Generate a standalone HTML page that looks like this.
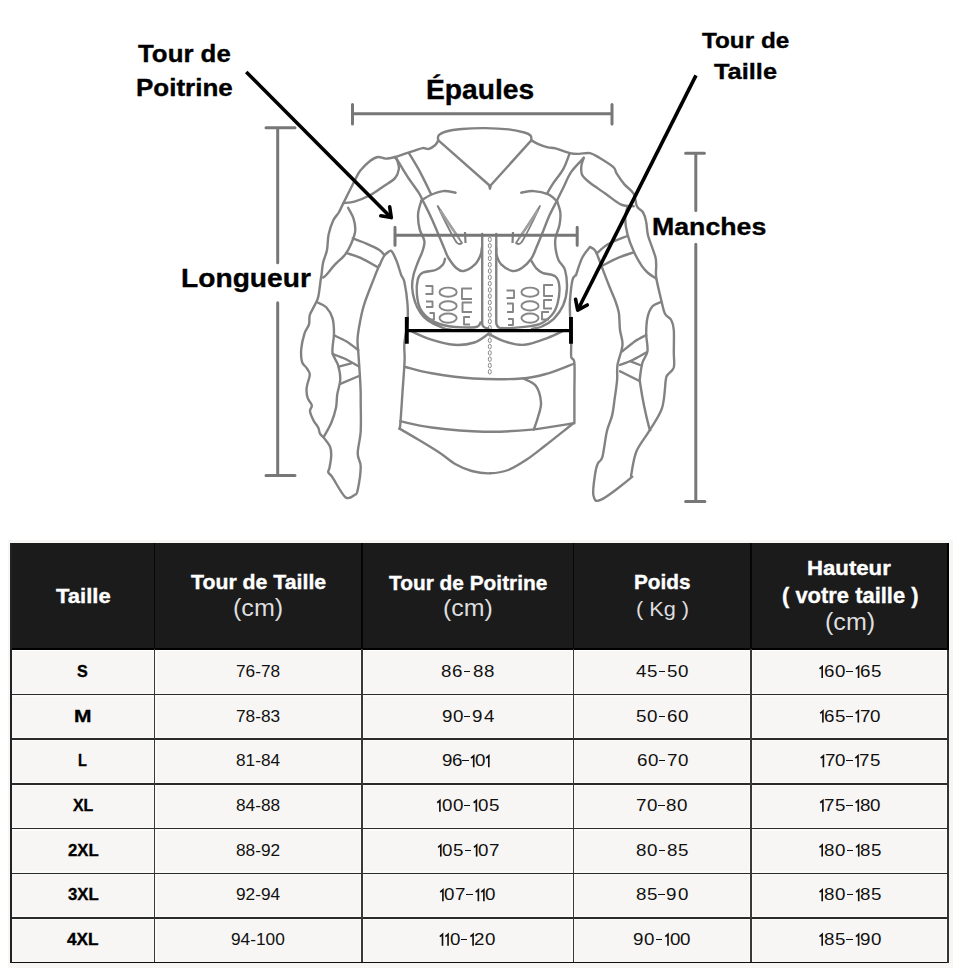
<!DOCTYPE html>
<html><head><meta charset="utf-8"><style>
html,body{margin:0;padding:0;background:#fff;}
body{width:960px;height:976px;position:relative;overflow:hidden;font-family:"Liberation Sans",sans-serif;}
div,span,svg{position:absolute;}
span{white-space:pre;transform-origin:0 0;}
</style></head><body>
<svg width="960" height="976" viewBox="0 0 960 976" style="left:0;top:0">
<g fill="none" stroke="#828282" stroke-width="2.4" stroke-linecap="round" stroke-linejoin="round">
<path d="M437.9,141.0 C437.5,141.7 436.8,143.7 435.3,145.0 C433.8,146.3 431.1,148.4 429.0,148.9 C426.9,149.4 425.3,147.8 422.8,148.1 C420.3,148.4 416.8,149.8 413.8,150.8 C410.7,151.8 407.5,152.9 404.4,153.9 C401.3,154.9 398.1,156.2 395.0,157.0 C391.9,157.8 388.5,158.6 385.6,158.6 C382.7,158.6 380.4,156.6 377.8,157.0 C375.2,157.4 372.9,158.8 370.0,161.0 C367.1,163.2 362.8,167.7 360.6,170.3 C358.4,172.9 358.3,173.7 356.7,176.6 C355.1,179.5 353.5,183.1 351.2,187.5 C349.0,191.9 345.5,198.9 343.4,203.1 C341.3,207.3 340.4,209.6 338.8,212.5 C337.1,215.4 335.0,216.7 333.3,220.3 C331.6,224.0 329.7,229.5 328.6,234.4 C327.6,239.3 327.9,245.3 327.0,250.0 C326.1,254.7 324.0,258.3 323.1,262.5 C322.2,266.7 321.9,272.2 321.5,275.0 C321.1,277.8 321.3,275.5 320.8,279.0 C320.3,282.5 319.3,292.1 318.4,296.2 C317.5,300.4 316.7,300.9 315.3,304.0 C313.9,307.1 310.9,311.6 309.8,315.0 C308.8,318.4 309.9,321.3 309.0,324.4 C308.1,327.5 305.7,329.6 304.4,333.8 C303.1,337.9 301.6,344.7 301.2,349.4 C300.9,354.1 301.1,358.8 302.0,361.9 C302.9,365.0 305.4,366.0 306.7,368.1 C308.0,370.2 309.7,371.8 309.8,374.4 C309.9,377.0 308.1,381.1 307.5,383.8 C306.9,386.4 306.5,387.6 306.5,390.0 C306.5,392.4 306.8,395.6 307.7,398.2 C308.6,400.8 311.4,403.1 311.8,405.3 C312.2,407.5 309.7,408.6 310.0,411.2 C310.3,413.8 312.2,417.9 313.6,420.6 C315.0,423.4 317.2,425.5 318.3,427.7 C319.4,429.9 319.0,431.8 320.0,433.6 C321.0,435.4 322.5,436.2 324.2,438.3 C325.9,440.4 328.8,443.6 330.0,446.5 C331.2,449.4 331.3,452.5 331.2,456.0 C331.1,459.5 330.0,465.0 329.5,467.7 C329.0,470.4 327.8,470.8 328.3,472.4 C328.8,474.0 329.5,473.1 332.4,477.2 C335.2,481.3 341.7,494.3 345.4,497.2 C349.1,500.1 352.8,496.0 354.8,494.8 C356.9,493.6 356.7,494.8 357.7,490.1 C358.7,485.4 360.7,472.7 360.7,466.6 C360.7,460.5 357.7,459.5 357.7,453.6 C357.7,447.7 360.2,439.8 360.7,431.2 C361.2,422.6 360.7,408.7 360.7,401.8 C360.7,394.9 360.8,394.6 360.6,390.0 C360.5,385.4 360.2,380.6 359.8,374.4 C359.4,368.1 358.7,358.2 358.3,352.5 C357.9,346.8 357.4,344.2 357.5,340.0 C357.6,335.8 358.0,333.2 359.0,327.5 C360.0,321.8 361.4,313.4 363.8,305.6 C366.1,297.8 370.5,287.4 373.1,280.6 C375.7,273.8 378.3,267.6 379.4,265.0"/>
<path d="M343.4,203.1 C345.2,202.8 350.0,202.9 354.4,201.6 C358.8,200.3 365.1,197.9 370.0,195.3 C374.9,192.7 379.8,188.9 384.0,186.0 C388.2,183.1 392.5,181.0 395.0,178.1 C397.5,175.2 398.5,171.6 398.9,168.8 C399.3,165.9 397.9,162.7 397.3,160.9 C396.7,159.1 395.4,158.3 395.0,157.8"/>
<path d="M396.6,158.6 C398.4,161.6 403.9,171.0 407.5,176.6 C411.1,182.2 415.6,187.8 418.4,192.2 C421.1,196.6 421.8,198.6 424.0,203.0 C426.2,207.4 429.1,213.0 431.7,218.8 C434.3,224.5 437.6,232.5 439.7,237.5 C441.8,242.5 443.0,245.6 444.5,249.0 C446.0,252.4 446.5,254.8 448.5,258.0 C450.5,261.2 453.7,265.8 456.2,268.0 C458.8,270.2 460.6,271.6 463.8,271.0 C466.9,270.4 472.2,267.1 475.0,264.4 C477.8,261.7 479.5,257.7 480.6,255.0 C481.7,252.3 481.6,249.2 481.8,248.0"/>
<path d="M409.0,153.1 C410.8,156.2 416.4,165.1 420.0,171.9 C423.6,178.7 429.1,190.1 430.9,193.8"/>
<path d="M421.2,200.5 C422.8,199.6 427.0,196.6 430.6,195.0 C434.2,193.4 438.9,191.5 443.1,191.1 C447.3,190.7 453.5,192.4 455.6,192.7"/>
<path d="M421.2,201.2 C420.7,203.3 418.4,209.1 418.1,213.8 C417.8,218.4 418.6,224.9 419.7,229.4 C420.8,233.9 423.9,237.4 424.4,241.0 C424.9,244.6 423.6,247.8 422.5,251.2 C421.4,254.8 419.5,258.0 418.0,262.0 C416.5,266.0 414.5,270.7 413.5,275.0 C412.5,279.3 411.9,283.5 412.2,288.0 C412.4,292.5 413.6,297.7 415.0,301.9 C416.4,306.1 418.4,309.9 420.6,313.0 C422.8,316.1 424.3,318.1 428.0,320.6 C431.7,323.1 439.0,326.4 443.0,328.0 C447.0,329.6 450.5,329.7 452.0,330.0"/>
<path d="M348.1,207.8 C349.0,209.6 352.4,214.8 353.6,218.8 C354.8,222.7 355.6,227.1 355.2,231.2 C354.8,235.4 352.9,239.8 351.2,243.8 C349.6,247.7 347.9,251.1 345.0,254.7 C342.1,258.3 337.1,262.2 334.0,265.6 C330.9,269.0 328.1,273.0 326.2,275.0 C324.4,277.0 323.6,277.1 323.1,277.5"/>
<path d="M352.8,238.3 C355.1,239.2 362.5,241.8 366.9,243.8 C371.3,245.7 376.5,248.2 379.4,250.0 C382.2,251.8 383.2,253.9 384.0,254.7"/>
<path d="M346.6,253.1 C348.9,253.9 355.4,255.5 360.6,257.8 C365.8,260.2 374.9,265.6 377.8,267.2"/>
<path d="M379.4,265.6 C380.2,264.0 382.4,258.6 384.0,256.2 C385.6,253.9 387.4,252.4 388.8,251.6 C390.1,250.8 390.6,250.0 391.9,251.6 C393.2,253.2 395.0,257.1 396.6,261.0 C398.2,264.9 399.9,271.5 401.2,275.0 C402.6,278.5 403.4,277.2 404.4,282.0 C405.4,286.8 407.0,297.2 407.5,304.0 C408.0,310.8 408.0,316.3 407.5,322.8 C407.0,329.3 404.9,336.8 404.4,343.1 C403.9,349.4 404.9,352.7 404.6,360.8 C404.3,368.9 403.2,381.6 402.5,392.0 C401.8,402.4 400.9,417.2 400.4,423.3 C399.9,429.4 399.6,427.6 399.4,428.5"/>
<path d="M317.7,302.5 C319.1,303.3 323.8,304.6 326.2,307.2 C328.7,309.8 331.2,313.7 332.5,318.1 C333.8,322.5 334.0,328.0 334.0,333.8 C334.0,339.5 331.8,347.3 332.5,352.5 C333.2,357.7 336.7,360.6 338.0,365.0 C339.3,369.4 340.4,374.1 340.3,379.0 C340.2,383.9 337.9,389.9 337.2,394.7 C336.5,399.5 337.0,403.0 336.0,407.7 C335.0,412.4 333.3,418.1 331.2,423.0 C329.1,427.9 324.9,434.8 323.6,437.1"/>
<path d="M334.0,335.3 C336.1,336.4 342.6,339.1 346.6,341.6 C350.7,344.1 356.4,348.8 358.3,350.2"/>
<path d="M332.5,354.0 C334.6,354.8 340.6,356.6 345.0,358.8 C349.4,360.9 356.7,365.3 359.0,366.6"/>
<path d="M338.8,366.6 L351.2,363.4"/>
<path d="M340.3,383.8 L359.0,376.0"/>
<path d="M438.2,141.0 C438.3,140.1 437.3,137.1 438.6,135.5 C439.9,133.9 442.4,132.6 446.2,131.5 C450.1,130.4 455.4,129.6 461.9,129.0 C468.4,128.4 477.5,128.0 485.3,128.1 C493.1,128.2 502.2,128.7 508.8,129.4 C515.3,130.1 520.8,131.5 524.4,132.5 C528.0,133.5 529.4,134.2 530.6,135.6 C531.8,137.0 531.3,140.1 531.4,141.0"/>
<path d="M438.4,140.3 L489,185 L490,188.75 L491,185 L530.6,141.1"/>
<path d="M531.4,140.3 C532.6,141.0 535.7,143.0 538.4,144.2 C541.1,145.4 544.9,146.6 547.8,147.3 C550.7,148.0 552.0,147.4 555.6,148.4 C559.2,149.4 565.8,152.2 569.7,153.1 C573.6,154.0 575.6,153.9 579.0,153.9 C582.4,153.9 586.6,152.4 590.0,153.1 C593.4,153.8 595.5,155.5 599.4,157.8 C603.3,160.2 610.5,164.6 613.4,167.2 C616.3,169.8 614.8,170.5 616.6,173.4 C618.4,176.3 621.5,181.0 624.4,184.4 C627.3,187.8 631.7,190.1 633.8,193.8 C635.8,197.4 635.3,203.1 636.9,206.2 C638.5,209.4 641.5,209.9 643.1,212.5 C644.7,215.1 645.5,218.2 646.2,221.9 C647.0,225.6 646.8,230.0 647.8,234.4 C648.8,238.8 651.2,244.5 652.5,248.4 C653.8,252.3 655.0,255.0 655.6,257.8 C656.2,260.6 656.1,261.7 656.2,265.0 C656.4,268.3 655.4,271.7 656.2,277.5 C657.1,283.3 659.8,294.0 661.2,300.0 C662.7,306.0 663.3,310.4 665.0,313.8 C666.7,317.1 669.8,317.3 671.2,320.0 C672.7,322.7 673.3,324.6 673.8,330.0 C674.2,335.4 673.8,346.2 673.8,352.5 C673.8,358.8 674.8,363.8 673.8,367.5 C672.7,371.2 668.8,372.9 667.5,375.0 C666.2,377.1 666.7,374.5 665.8,380.0 C664.9,385.5 664.8,399.7 662.0,408.2 C659.2,416.7 653.4,423.9 649.1,431.2 C644.8,438.4 639.3,444.4 636.3,451.7 C633.3,459.0 632.2,470.3 631.2,474.8 C630.2,479.2 635.0,474.4 630.0,478.6 C625.0,482.8 607.2,496.9 601.1,499.7 C595.0,502.5 594.4,499.8 593.4,495.2 C592.4,490.6 594.6,477.5 595.4,472.2 C596.2,466.9 596.8,465.8 598.0,463.2 C599.2,460.6 600.9,462.1 602.4,456.8 C603.9,451.5 605.3,438.0 606.9,431.2 C608.5,424.4 610.7,421.2 612.0,415.9 C613.3,410.6 613.8,405.2 614.6,399.2 C615.5,393.2 616.6,385.7 617.1,380.0 C617.6,374.3 616.6,370.8 617.5,365.0 C618.4,359.2 622.1,350.8 622.5,345.0 C622.9,339.2 620.6,335.4 620.0,330.0 C619.4,324.6 619.6,317.5 618.8,312.5 C617.9,307.5 616.7,304.6 615.0,300.0 C613.3,295.4 610.8,290.2 608.8,285.0 C606.7,279.8 604.3,273.5 602.5,268.8 C600.7,264.0 599.1,259.4 597.8,256.2 C596.5,253.1 596.0,251.6 594.7,250.0 C593.4,248.4 590.8,247.4 590.0,246.9"/>
<path d="M583.8,157.8 C583.4,159.1 581.7,162.7 581.4,165.6 C581.1,168.5 580.8,172.1 582.2,175.0 C583.6,177.9 586.1,179.7 590.0,182.8 C593.9,185.9 600.4,190.1 605.6,193.8 C610.8,197.4 616.6,202.6 621.2,204.7 C625.9,206.8 631.7,206.0 633.8,206.2"/>
<path d="M569.7,153.1 C568.7,155.7 566.3,163.5 563.4,168.8 C560.5,174.0 555.2,180.2 552.5,184.4 C549.8,188.6 547.9,192.2 547.0,193.8"/>
<path d="M583.8,157.8 C581.7,160.2 574.6,167.0 571.2,171.9 C567.9,176.8 565.7,182.8 563.4,187.5 C561.1,192.2 559.5,195.3 557.2,200.0 C554.9,204.7 551.8,210.4 549.4,215.6 C547.0,220.8 545.2,226.2 543.1,231.2 C541.0,236.3 539.0,241.4 537.0,246.0 C535.0,250.6 533.8,255.1 531.2,258.8 C528.7,262.4 525.0,266.0 521.9,268.0 C518.8,270.0 515.9,271.6 512.5,271.0 C509.1,270.4 503.9,267.1 501.2,264.4 C498.6,261.7 497.4,257.7 496.6,255.0 C495.8,252.3 496.4,249.2 496.3,248.0"/>
<path d="M521.2,192.7 C523.3,192.4 529.3,190.8 533.8,191.1 C538.2,191.3 543.9,192.5 547.8,194.2 C551.7,195.9 555.6,200.1 557.2,201.2"/>
<path d="M557.2,201.6 C557.7,203.4 559.9,208.6 560.3,212.5 C560.7,216.4 560.3,220.8 559.5,225.0 C558.7,229.2 556.3,233.7 555.6,237.5 C554.9,241.3 555.0,244.2 555.5,248.0 C556.0,251.8 556.9,256.3 558.5,260.0 C560.1,263.7 563.6,265.2 565.0,270.0 C566.4,274.8 567.2,282.8 566.9,288.8 C566.6,294.7 565.3,300.6 563.1,305.6 C560.9,310.6 557.2,315.3 553.8,318.8 C550.3,322.2 546.1,324.5 542.5,326.2 C538.9,328.0 533.8,328.5 532.0,329.0"/>
<path d="M627.5,206.2 C627.1,208.3 625.2,214.1 625.2,218.8 C625.2,223.4 626.1,228.9 627.5,234.4 C628.9,239.9 631.4,246.4 633.8,251.6 C636.1,256.8 639.3,262.1 641.6,265.6 C643.9,269.1 645.1,270.3 647.5,272.5 C649.9,274.7 654.8,277.7 656.2,278.8"/>
<path d="M597.0,253.1 C599.0,251.5 603.7,246.6 608.8,243.8 C613.8,240.9 624.4,237.3 627.5,236.0"/>
<path d="M602.5,265.6 C605.1,264.3 612.8,260.0 618.0,257.8 C623.2,255.6 631.1,253.2 633.8,252.3"/>
<path d="M576.0,275.0 C577.0,272.1 579.9,262.5 582.2,257.8 C584.5,253.1 588.7,248.7 590.0,246.9"/>
<path d="M576.0,275.0 C575.4,275.8 573.5,275.8 572.5,280.0 C571.5,284.2 570.4,294.6 570.0,300.0 C569.6,305.4 569.8,305.8 570.0,312.5 C570.2,319.2 571.0,332.6 571.2,340.0 C571.5,347.4 570.7,352.9 571.2,356.7 C571.8,360.5 573.9,357.0 574.4,362.9 C574.9,368.8 574.4,381.9 574.4,392.0 C574.4,402.1 574.4,418.1 574.4,423.3"/>
<path d="M661.2,301.9 C659.8,302.6 654.8,303.6 652.5,306.2 C650.2,308.9 648.5,312.9 647.5,317.5 C646.5,322.1 646.2,328.1 646.2,333.8 C646.2,339.4 648.1,346.5 647.5,351.2 C646.9,356.0 643.8,358.1 642.5,362.5 C641.2,366.9 640.4,373.9 640.0,377.5 C639.6,381.1 639.5,379.1 640.2,383.8 C640.9,388.5 642.5,398.3 644.0,405.6 C645.5,412.9 648.0,423.3 649.1,427.4 C650.2,431.5 650.2,429.6 650.4,430.0"/>
<path d="M622.5,351.2 C624.6,349.6 631.0,344.0 635.0,341.2 C639.0,338.5 644.4,336.0 646.2,335.0"/>
<path d="M620.0,365.0 C622.1,364.2 628.1,362.1 632.5,360.0 C636.9,357.9 644.0,353.8 646.2,352.5"/>
<path d="M630.0,361.2 L640.0,365.0"/>
<path d="M620.0,371.2 L640.0,381.2"/>
<path d="M482.2,234 L482.2,323.75 Q482.5,328 488.4,328.4"/>
<path d="M496.25,234 L496.25,323 Q497,327.5 501,328.5"/>
<path d="M445.0,258.8 C444.7,259.7 444.6,262.5 443.0,264.4 C441.4,266.3 439.0,268.6 435.6,270.0 C432.2,271.4 425.5,271.2 422.5,272.8 C419.5,274.4 418.7,275.8 417.8,279.4 C416.9,283.0 416.4,289.4 416.9,294.4 C417.4,299.4 418.1,305.0 420.6,309.4 C423.1,313.8 427.2,317.8 431.9,320.6 C436.6,323.4 441.6,325.1 448.8,326.2 C455.9,327.4 469.7,327.8 475.0,327.2 C480.3,326.6 479.7,323.3 480.6,322.5"/>
<path d="M531.2,260.6 C532.0,261.8 534.1,266.0 536.0,268.0 C537.9,270.0 539.2,271.4 542.5,272.8 C545.8,274.2 552.8,274.2 555.6,276.6 C558.4,279.0 559.1,282.4 559.4,286.9 C559.7,291.4 558.8,299.1 557.5,303.8 C556.2,308.4 555.0,311.6 551.9,315.0 C548.8,318.4 545.3,322.2 538.8,324.4 C532.2,326.6 518.6,327.4 512.5,328.0 C506.4,328.6 503.8,328.0 502.0,328.0"/>
<path d="M410.6,331.0 C413.9,332.4 423.4,337.1 430.6,339.4 C437.8,341.7 446.7,344.3 454.0,344.8 C461.3,345.3 468.7,344.3 474.4,342.5 C480.1,340.7 486.1,335.3 488.4,333.9"/>
<path d="M488.4,333.9 C491.3,335.2 499.6,339.9 505.6,341.7 C511.6,343.5 517.4,345.4 524.4,344.8 C531.4,344.2 541.0,340.3 547.8,337.8 C554.6,335.3 562.1,331.3 565.0,330.0"/>
<path d="M405.6,367.0 C410.0,368.1 420.4,371.4 431.7,373.3 C443.0,375.2 458.4,377.6 473.3,378.5 C488.2,379.4 508.8,379.4 521.2,378.5 C533.8,377.6 539.6,375.7 548.3,373.3 C557.0,370.9 569.1,365.6 573.3,364.0"/>
<path d="M400.4,421.2 C405.6,422.3 417.8,425.8 431.7,427.5 C445.6,429.2 467.1,431.3 483.8,431.7 C500.4,432.1 516.8,431.0 531.7,429.6 C546.6,428.2 566.4,424.4 573.3,423.3"/>
<path d="M523.3,378.5 C525.4,379.7 532.8,381.8 535.8,385.8 C538.8,389.8 540.6,397.3 541.0,402.5 C541.4,407.7 539.2,412.5 538.0,417.0 C536.8,421.5 534.5,427.5 533.8,429.6"/>
<path d="M399.5,428.6 C402.8,430.5 412.3,436.0 419.0,440.0 C425.7,444.0 433.5,448.7 439.6,452.7 C445.7,456.7 450.2,461.1 455.6,464.2 C461.0,467.2 466.0,469.5 471.7,471.0 C477.4,472.5 483.9,473.5 490.0,473.3 C496.1,473.1 502.2,472.3 508.3,470.0 C514.4,467.7 520.6,463.6 526.7,459.6 C532.8,455.6 537.4,451.7 545.0,445.8 C552.6,439.9 567.9,427.6 572.5,424.0"/>
</g>
<g fill="none" stroke="#868686" stroke-width="1.9" stroke-linejoin="round">
<ellipse cx="448.1" cy="292.2" rx="8.6" ry="4.6"/>
<ellipse cx="448.1" cy="305.9" rx="8.6" ry="4.6"/>
<ellipse cx="448.1" cy="318.1" rx="8.6" ry="4.6"/>
<ellipse cx="530" cy="292.2" rx="8.6" ry="4.6"/>
<ellipse cx="530" cy="305.9" rx="8.6" ry="4.6"/>
<ellipse cx="530" cy="318.1" rx="8.6" ry="4.6"/>
<path d="M425.5,286 L432.5,286 L432.5,294 L425.5,294"/>
<path d="M426,301.5 L432.5,301.5 L432.5,307 L426,307"/>
<path d="M429.5,313 L434,313 L434,319.5 L429.5,319.5"/>
<path d="M472,288.5 L462,288.5 L462,299 L472,299"/>
<path d="M472,302.5 L462.5,302.5 L462.5,312 L472,312"/>
<path d="M470,317 L464,317 L464,324.5 L470,324.5"/>
<path d="M506.5,290.5 L514,290.5 L514,298 L506.5,298"/>
<path d="M507,303.5 L513,303.5 L513,312 L507,312"/>
<path d="M508,319 L513,319 L513,325 L508,325"/>
<path d="M553,285 L544,285 L544,296 L553,296"/>
<path d="M552,300 L544,300 L544,308.5 L552,308.5"/>
<path d="M549,312 L542,312 L542,319.5 L549,319.5"/>
</g>
<g fill="none" stroke="#808080" stroke-width="1.8" stroke-linejoin="round">
<path d="M437.7,206 Q452,228 462,243 Q458,246 455,240 Q448,228 437.7,206 Z"/>
<path d="M540,206 Q526,228 516,243 Q520,246 523,240 Q530,228 540,206 Z"/>
<path d="M465,232 L465.5,243 M513,232 L512.5,243" stroke-width="2.2"/>
<path d="M440,210 Q450,226 459,238 M538,210 Q528,226 519,238" stroke="#a0a0a0" stroke-width="2.5"/>
</g>
<g fill="none" stroke="#8a8a8a" stroke-width="1.0">
<ellipse cx="489.8" cy="239.5" rx="1.5" ry="2.3"/>
<ellipse cx="489.8" cy="245.8" rx="1.5" ry="2.3"/>
<ellipse cx="489.8" cy="252.1" rx="1.5" ry="2.3"/>
<ellipse cx="489.8" cy="258.4" rx="1.5" ry="2.3"/>
<ellipse cx="489.8" cy="264.7" rx="1.5" ry="2.3"/>
<ellipse cx="489.8" cy="271.0" rx="1.5" ry="2.3"/>
<ellipse cx="489.8" cy="277.3" rx="1.5" ry="2.3"/>
<ellipse cx="489.8" cy="283.6" rx="1.5" ry="2.3"/>
<ellipse cx="489.8" cy="289.9" rx="1.5" ry="2.3"/>
<ellipse cx="489.8" cy="296.2" rx="1.5" ry="2.3"/>
<ellipse cx="489.8" cy="302.5" rx="1.5" ry="2.3"/>
<ellipse cx="489.8" cy="308.8" rx="1.5" ry="2.3"/>
<ellipse cx="489.8" cy="315.1" rx="1.5" ry="2.3"/>
<ellipse cx="489.8" cy="321.4" rx="1.5" ry="2.3"/>
<ellipse cx="489.8" cy="327.7" rx="1.5" ry="2.3"/>
<ellipse cx="489.8" cy="334.0" rx="1.5" ry="2.3"/>
<ellipse cx="489.8" cy="340.3" rx="1.5" ry="2.3"/>
<ellipse cx="489.8" cy="346.6" rx="1.5" ry="2.3"/>
<ellipse cx="489.8" cy="352.9" rx="1.5" ry="2.3"/>
<ellipse cx="489.8" cy="359.2" rx="1.5" ry="2.3"/>
<ellipse cx="489.8" cy="365.5" rx="1.5" ry="2.3"/>
<ellipse cx="489.8" cy="371.8" rx="1.5" ry="2.3"/>
</g>
<g fill="none" stroke="#777777" stroke-width="3" stroke-linecap="round">
<path d="M352.5,113.75 L612,113.75 M352.5,104.6 L352.5,123.9 M612,104.6 L612,123.9"/>
<path d="M277.7,127.7 L277.7,262.8 M277.7,302.7 L277.7,475.5 M266,127.7 L295,127.7 M266,475.5 L295,475.5"/>
<path d="M695.8,153.2 L695.8,210.4 M695.8,244.3 L695.8,501.5 M685.6,153.2 L704.4,153.2 M685.6,501.5 L704.9,501.5"/>
<path d="M395,235.2 L577.2,235.2 M395,227.3 L395,245.3 M577.2,227.3 L577.2,245.3"/>
</g>
<g fill="none" stroke="#000" stroke-width="3.6">
<path d="M246.25,71.9 L390,216.5" stroke-linecap="butt"/>
<path d="M380.8,215.8 L391.25,217.6 L389.7,206.9" stroke-linecap="round" stroke-linejoin="round"/>
<path d="M696,75.4 L578.5,308.5" stroke-linecap="butt"/>
<path d="M575.6,299.3 L577.7,310.2 L587.3,305" stroke-linecap="round" stroke-linejoin="round"/>
<path d="M406.8,330.6 L571,330.6" stroke-width="3.2"/>
<path d="M406.8,317 L406.8,343.8 M571,317 L571,343.8" stroke-width="3.9"/>
</g>
</svg>
<div style="left:8px;top:540px;width:945px;height:428px;background:#f7f6f4"></div>
<div style="left:11px;top:543px;width:937px;height:419px;background:#f7f6f4"></div>
<div style="left:10.5px;top:542.5px;width:938px;height:107px;background:#1b1b1b"></div>
<div style="left:11px;top:692.5px;width:937px;height:4px;background:#fbfbfa"></div>
<div style="left:11px;top:737.2px;width:937px;height:4px;background:#fbfbfa"></div>
<div style="left:11px;top:781.9px;width:937px;height:4px;background:#fbfbfa"></div>
<div style="left:11px;top:826.6px;width:937px;height:4px;background:#fbfbfa"></div>
<div style="left:11px;top:871.3px;width:937px;height:4px;background:#fbfbfa"></div>
<div style="left:11px;top:916.0px;width:937px;height:4px;background:#fbfbfa"></div>
<div style="left:11px;top:649px;width:937px;height:2px;background:#fff"></div>
<div style="left:152.5px;top:650px;width:4px;height:312px;background:#fbfbfa"></div>
<div style="left:360.3px;top:650px;width:4px;height:312px;background:#fbfbfa"></div>
<div style="left:571.4px;top:650px;width:4px;height:312px;background:#fbfbfa"></div>
<div style="left:749.2px;top:650px;width:4px;height:312px;background:#fbfbfa"></div>
<div style="left:946px;top:650px;width:2px;height:312px;background:#fff"></div>
<div style="left:11px;top:693.70px;width:937px;height:1.6px;background:#2a2a2a"></div>
<div style="left:11px;top:738.40px;width:937px;height:1.6px;background:#2a2a2a"></div>
<div style="left:11px;top:783.10px;width:937px;height:1.6px;background:#2a2a2a"></div>
<div style="left:11px;top:827.80px;width:937px;height:1.6px;background:#2a2a2a"></div>
<div style="left:11px;top:872.50px;width:937px;height:1.6px;background:#2a2a2a"></div>
<div style="left:11px;top:917.20px;width:937px;height:1.6px;background:#2a2a2a"></div>
<div style="left:11px;top:961.50px;width:937px;height:1.6px;background:#111111"></div>
<div style="left:11px;top:648.2px;width:937px;height:1.8px;background:#000"></div>
<div style="left:153.6px;top:543px;width:1.8px;height:107px;background:#050505"></div>
<div style="left:153.6px;top:649px;width:1.8px;height:313px;background:#383838"></div>
<div style="left:361.4px;top:543px;width:1.8px;height:107px;background:#050505"></div>
<div style="left:361.4px;top:649px;width:1.8px;height:313px;background:#383838"></div>
<div style="left:572.5px;top:543px;width:1.8px;height:107px;background:#050505"></div>
<div style="left:572.5px;top:649px;width:1.8px;height:313px;background:#383838"></div>
<div style="left:750.4px;top:543px;width:1.8px;height:107px;background:#050505"></div>
<div style="left:750.4px;top:649px;width:1.8px;height:313px;background:#383838"></div>
<div style="left:10.2px;top:543px;width:1.8px;height:420px;background:#222"></div>
<div style="left:947.2px;top:650px;width:1.8px;height:313px;background:#333"></div>
<div style="left:947.2px;top:543px;width:1.8px;height:107px;background:#000"></div>
<span style="left:138.34px;top:42.45px;font-size:24.058px;line-height:24.058px;font-weight:700;color:#000000;transform:scaleX(1.0737);-webkit-text-stroke:0.35px #000000">Tour de</span>
<span style="left:135.98px;top:75.70px;font-size:23.768px;line-height:23.768px;font-weight:700;color:#000000;transform:scaleX(1.0948);-webkit-text-stroke:0.35px #000000">Poitrine</span>
<span style="left:426.12px;top:76.16px;font-size:27.754px;line-height:27.754px;font-weight:700;color:#000000;transform:scaleX(1.0170);-webkit-text-stroke:0.35px #000000">Épaules</span>
<span style="left:701.76px;top:29.34px;font-size:22.899px;line-height:22.899px;font-weight:700;color:#000000;transform:scaleX(1.0616);-webkit-text-stroke:0.35px #000000">Tour de</span>
<span style="left:713.75px;top:60.34px;font-size:22.899px;line-height:22.899px;font-weight:700;color:#000000;transform:scaleX(1.1097);-webkit-text-stroke:0.35px #000000">Taille</span>
<span style="left:651.93px;top:214.83px;font-size:24.783px;line-height:24.783px;font-weight:700;color:#000000;transform:scaleX(1.0780);-webkit-text-stroke:0.35px #000000">Manches</span>
<span style="left:180.83px;top:265.13px;font-size:26.667px;line-height:26.667px;font-weight:700;color:#000000;transform:scaleX(1.0570);-webkit-text-stroke:0.35px #000000">Longueur</span>
<span style="left:55.98px;top:586.48px;font-size:20.725px;line-height:20.725px;font-weight:700;color:#ffffff;transform:scaleX(1.0639);-webkit-text-stroke:0.35px #ffffff">Taille</span>
<span style="left:191.04px;top:572.33px;font-size:20.435px;line-height:20.435px;font-weight:700;color:#ffffff;transform:scaleX(1.0419);-webkit-text-stroke:0.35px #ffffff">Tour de Taille</span>
<span style="left:233.19px;top:597.25px;font-size:23.585px;line-height:23.585px;font-weight:400;color:#dedede;transform:scaleX(1.0645)">(cm)</span>
<span style="left:388.79px;top:572.69px;font-size:20.072px;line-height:20.072px;font-weight:700;color:#ffffff;transform:scaleX(1.0393);-webkit-text-stroke:0.35px #ffffff">Tour de Poitrine</span>
<span style="left:443.20px;top:596.09px;font-size:24.717px;line-height:24.717px;font-weight:400;color:#dedede;transform:scaleX(1.0093)">(cm)</span>
<span style="left:633.55px;top:572.92px;font-size:19.855px;line-height:19.855px;font-weight:700;color:#ffffff;transform:scaleX(1.0459);-webkit-text-stroke:0.35px #ffffff">Poids</span>
<span style="left:635.60px;top:600.49px;font-size:19.420px;line-height:19.420px;font-weight:400;color:#dedede;transform:scaleX(1.1186)">( Kg )</span>
<span style="left:807.45px;top:558.43px;font-size:20.435px;line-height:20.435px;font-weight:700;color:#ffffff;transform:scaleX(1.0861);-webkit-text-stroke:0.35px #ffffff">Hauteur</span>
<span style="left:781.70px;top:584.68px;font-size:22.609px;line-height:22.609px;font-weight:700;color:#ffffff;transform:scaleX(0.9713);-webkit-text-stroke:0.35px #ffffff">( votre taille )</span>
<span style="left:825.10px;top:611.20px;font-size:23.585px;line-height:23.585px;font-weight:400;color:#dedede;transform:scaleX(1.0634)">(cm)</span>
<span style="left:77.42px;top:663.12px;font-size:17.391px;line-height:17.391px;font-weight:700;color:#000000;transform:scaleX(0.9296);-webkit-text-stroke:0.35px #000000">S</span>
<span style="left:236.29px;top:663.12px;font-size:17.391px;line-height:17.391px;font-weight:400;color:#111111;transform:scaleX(0.9934)">76-78</span>
<span style="left:441.35px;top:663.12px;font-size:17.391px;line-height:17.391px;color:#111111;transform:scaleX(1.0800)">8</span>
<span style="left:452.26px;top:663.12px;font-size:17.391px;line-height:17.391px;color:#111111;transform:scaleX(1.0800)">6</span>
<div style="left:464.30px;top:671px;width:6.2px;height:1.4px;background:#111111"></div>
<span style="left:472.64px;top:663.12px;font-size:17.391px;line-height:17.391px;color:#111111;transform:scaleX(1.0800)">8</span>
<span style="left:483.74px;top:663.12px;font-size:17.391px;line-height:17.391px;color:#111111;transform:scaleX(1.0800)">8</span>
<span style="left:636.12px;top:663.12px;font-size:17.391px;line-height:17.391px;color:#111111;transform:scaleX(1.0800)">4</span>
<span style="left:646.81px;top:663.12px;font-size:17.391px;line-height:17.391px;color:#111111;transform:scaleX(1.0800)">5</span>
<div style="left:658.62px;top:671px;width:6.2px;height:1.4px;background:#111111"></div>
<span style="left:666.92px;top:663.12px;font-size:17.391px;line-height:17.391px;color:#111111;transform:scaleX(1.0800)">5</span>
<span style="left:677.98px;top:663.12px;font-size:17.391px;line-height:17.391px;color:#111111;transform:scaleX(1.0800)">0</span>
<span style="left:823.71px;top:663.12px;font-size:17.391px;line-height:17.391px;color:#111111;transform:scaleX(1.0800)">6</span>
<span style="left:834.79px;top:663.12px;font-size:17.391px;line-height:17.391px;color:#111111;transform:scaleX(1.0800)">0</span>
<div style="left:846.44px;top:671px;width:6.2px;height:1.4px;background:#111111"></div>
<span style="left:860.07px;top:663.12px;font-size:17.391px;line-height:17.391px;color:#111111;transform:scaleX(1.0800)">6</span>
<span style="left:871.15px;top:663.12px;font-size:17.391px;line-height:17.391px;color:#111111;transform:scaleX(1.0800)">5</span>
<span style="left:74.13px;top:707.77px;font-size:17.391px;line-height:17.391px;font-weight:700;color:#000000;transform:scaleX(1.2075);-webkit-text-stroke:0.35px #000000">M</span>
<span style="left:236.29px;top:707.77px;font-size:17.391px;line-height:17.391px;font-weight:400;color:#111111;transform:scaleX(0.9934)">78-83</span>
<span style="left:441.56px;top:707.77px;font-size:17.391px;line-height:17.391px;color:#111111;transform:scaleX(1.0800)">9</span>
<span style="left:452.60px;top:707.77px;font-size:17.391px;line-height:17.391px;color:#111111;transform:scaleX(1.0800)">0</span>
<div style="left:464.21px;top:716px;width:6.2px;height:1.4px;background:#111111"></div>
<span style="left:472.15px;top:707.77px;font-size:17.391px;line-height:17.391px;color:#111111;transform:scaleX(1.0800)">9</span>
<span style="left:483.57px;top:707.77px;font-size:17.391px;line-height:17.391px;color:#111111;transform:scaleX(1.0800)">4</span>
<span style="left:636.25px;top:707.77px;font-size:17.391px;line-height:17.391px;color:#111111;transform:scaleX(1.0800)">5</span>
<span style="left:647.20px;top:707.77px;font-size:17.391px;line-height:17.391px;color:#111111;transform:scaleX(1.0800)">0</span>
<div style="left:658.91px;top:716px;width:6.2px;height:1.4px;background:#111111"></div>
<span style="left:666.93px;top:707.77px;font-size:17.391px;line-height:17.391px;color:#111111;transform:scaleX(1.0800)">6</span>
<span style="left:678.07px;top:707.77px;font-size:17.391px;line-height:17.391px;color:#111111;transform:scaleX(1.0800)">0</span>
<span style="left:824.26px;top:707.77px;font-size:17.391px;line-height:17.391px;color:#111111;transform:scaleX(1.0800)">6</span>
<span style="left:835.06px;top:707.77px;font-size:17.391px;line-height:17.391px;color:#111111;transform:scaleX(1.0800)">5</span>
<div style="left:846.42px;top:716px;width:6.2px;height:1.4px;background:#111111"></div>
<span style="left:859.66px;top:707.77px;font-size:17.391px;line-height:17.391px;color:#111111;transform:scaleX(1.0800)">7</span>
<span style="left:870.45px;top:707.77px;font-size:17.391px;line-height:17.391px;color:#111111;transform:scaleX(1.0800)">0</span>
<span style="left:78.48px;top:752.42px;font-size:17.391px;line-height:17.391px;font-weight:700;color:#000000;transform:scaleX(0.8343);-webkit-text-stroke:0.35px #000000">L</span>
<span style="left:236.20px;top:752.42px;font-size:17.391px;line-height:17.391px;font-weight:400;color:#111111;transform:scaleX(0.9934)">81-84</span>
<span style="left:441.56px;top:752.42px;font-size:17.391px;line-height:17.391px;color:#111111;transform:scaleX(1.0800)">9</span>
<span style="left:451.50px;top:752.42px;font-size:17.391px;line-height:17.391px;color:#111111;transform:scaleX(1.0800)">6</span>
<div style="left:462.38px;top:760px;width:6.2px;height:1.4px;background:#111111"></div>
<span style="left:474.91px;top:752.42px;font-size:17.391px;line-height:17.391px;color:#111111;transform:scaleX(1.0800)">0</span>
<span style="left:636.66px;top:752.42px;font-size:17.391px;line-height:17.391px;color:#111111;transform:scaleX(1.0800)">6</span>
<span style="left:647.55px;top:752.42px;font-size:17.391px;line-height:17.391px;color:#111111;transform:scaleX(1.0800)">0</span>
<div style="left:659.01px;top:760px;width:6.2px;height:1.4px;background:#111111"></div>
<span style="left:666.83px;top:752.42px;font-size:17.391px;line-height:17.391px;color:#111111;transform:scaleX(1.0800)">7</span>
<span style="left:677.72px;top:752.42px;font-size:17.391px;line-height:17.391px;color:#111111;transform:scaleX(1.0800)">0</span>
<span style="left:824.64px;top:752.42px;font-size:17.391px;line-height:17.391px;color:#111111;transform:scaleX(1.0800)">7</span>
<span style="left:835.20px;top:752.42px;font-size:17.391px;line-height:17.391px;color:#111111;transform:scaleX(1.0800)">0</span>
<div style="left:846.33px;top:760px;width:6.2px;height:1.4px;background:#111111"></div>
<span style="left:859.26px;top:752.42px;font-size:17.391px;line-height:17.391px;color:#111111;transform:scaleX(1.0800)">7</span>
<span style="left:869.82px;top:752.42px;font-size:17.391px;line-height:17.391px;color:#111111;transform:scaleX(1.0800)">5</span>
<span style="left:73.14px;top:797.07px;font-size:17.391px;line-height:17.391px;font-weight:700;color:#000000;transform:scaleX(0.9135);-webkit-text-stroke:0.35px #000000">XL</span>
<span style="left:236.37px;top:797.07px;font-size:17.391px;line-height:17.391px;font-weight:400;color:#111111;transform:scaleX(0.9934)">84-88</span>
<span style="left:441.61px;top:797.07px;font-size:17.391px;line-height:17.391px;color:#111111;transform:scaleX(1.0800)">0</span>
<span style="left:452.53px;top:797.07px;font-size:17.391px;line-height:17.391px;color:#111111;transform:scaleX(1.0800)">0</span>
<div style="left:464.21px;top:805px;width:6.2px;height:1.4px;background:#111111"></div>
<span style="left:478.06px;top:797.07px;font-size:17.391px;line-height:17.391px;color:#111111;transform:scaleX(1.0800)">0</span>
<span style="left:488.98px;top:797.07px;font-size:17.391px;line-height:17.391px;color:#111111;transform:scaleX(1.0800)">5</span>
<span style="left:636.06px;top:797.07px;font-size:17.391px;line-height:17.391px;color:#111111;transform:scaleX(1.0800)">7</span>
<span style="left:646.97px;top:797.07px;font-size:17.391px;line-height:17.391px;color:#111111;transform:scaleX(1.0800)">0</span>
<div style="left:658.43px;top:805px;width:6.2px;height:1.4px;background:#111111"></div>
<span style="left:666.45px;top:797.07px;font-size:17.391px;line-height:17.391px;color:#111111;transform:scaleX(1.0800)">8</span>
<span style="left:677.17px;top:797.07px;font-size:17.391px;line-height:17.391px;color:#111111;transform:scaleX(1.0800)">0</span>
<span style="left:824.26px;top:797.07px;font-size:17.391px;line-height:17.391px;color:#111111;transform:scaleX(1.0800)">7</span>
<span style="left:835.06px;top:797.07px;font-size:17.391px;line-height:17.391px;color:#111111;transform:scaleX(1.0800)">5</span>
<div style="left:846.42px;top:805px;width:6.2px;height:1.4px;background:#111111"></div>
<span style="left:859.84px;top:797.07px;font-size:17.391px;line-height:17.391px;color:#111111;transform:scaleX(1.0800)">8</span>
<span style="left:870.45px;top:797.07px;font-size:17.391px;line-height:17.391px;color:#111111;transform:scaleX(1.0800)">0</span>
<span style="left:67.60px;top:841.72px;font-size:17.391px;line-height:17.391px;font-weight:700;color:#000000;transform:scaleX(0.9616);-webkit-text-stroke:0.35px #000000">2XL</span>
<span style="left:236.37px;top:841.72px;font-size:17.391px;line-height:17.391px;font-weight:400;color:#111111;transform:scaleX(0.9934)">88-92</span>
<span style="left:442.42px;top:841.72px;font-size:17.391px;line-height:17.391px;color:#111111;transform:scaleX(1.0800)">0</span>
<span style="left:453.16px;top:841.72px;font-size:17.391px;line-height:17.391px;color:#111111;transform:scaleX(1.0800)">5</span>
<div style="left:464.66px;top:850px;width:6.2px;height:1.4px;background:#111111"></div>
<span style="left:478.26px;top:841.72px;font-size:17.391px;line-height:17.391px;color:#111111;transform:scaleX(1.0800)">0</span>
<span style="left:488.82px;top:841.72px;font-size:17.391px;line-height:17.391px;color:#111111;transform:scaleX(1.0800)">7</span>
<span style="left:635.90px;top:841.72px;font-size:17.391px;line-height:17.391px;color:#111111;transform:scaleX(1.0800)">8</span>
<span style="left:646.86px;top:841.72px;font-size:17.391px;line-height:17.391px;color:#111111;transform:scaleX(1.0800)">0</span>
<div style="left:658.57px;top:850px;width:6.2px;height:1.4px;background:#111111"></div>
<span style="left:666.79px;top:841.72px;font-size:17.391px;line-height:17.391px;color:#111111;transform:scaleX(1.0800)">8</span>
<span style="left:677.75px;top:841.72px;font-size:17.391px;line-height:17.391px;color:#111111;transform:scaleX(1.0800)">5</span>
<span style="left:823.92px;top:841.72px;font-size:17.391px;line-height:17.391px;color:#111111;transform:scaleX(1.0800)">8</span>
<span style="left:834.86px;top:841.72px;font-size:17.391px;line-height:17.391px;color:#111111;transform:scaleX(1.0800)">0</span>
<div style="left:846.55px;top:850px;width:6.2px;height:1.4px;background:#111111"></div>
<span style="left:860.43px;top:841.72px;font-size:17.391px;line-height:17.391px;color:#111111;transform:scaleX(1.0800)">8</span>
<span style="left:871.37px;top:841.72px;font-size:17.391px;line-height:17.391px;color:#111111;transform:scaleX(1.0800)">5</span>
<span style="left:67.77px;top:886.37px;font-size:17.391px;line-height:17.391px;font-weight:700;color:#000000;transform:scaleX(0.9626);-webkit-text-stroke:0.35px #000000">3XL</span>
<span style="left:236.11px;top:886.37px;font-size:17.391px;line-height:17.391px;font-weight:400;color:#111111;transform:scaleX(0.9934)">92-94</span>
<span style="left:444.46px;top:886.37px;font-size:17.391px;line-height:17.391px;color:#111111;transform:scaleX(1.0800)">0</span>
<span style="left:454.90px;top:886.37px;font-size:17.391px;line-height:17.391px;color:#111111;transform:scaleX(1.0800)">7</span>
<div style="left:466.47px;top:894px;width:6.2px;height:1.4px;background:#111111"></div>
<span style="left:485.44px;top:886.37px;font-size:17.391px;line-height:17.391px;color:#111111;transform:scaleX(1.0800)">0</span>
<span style="left:635.90px;top:886.37px;font-size:17.391px;line-height:17.391px;color:#111111;transform:scaleX(1.0800)">8</span>
<span style="left:646.82px;top:886.37px;font-size:17.391px;line-height:17.391px;color:#111111;transform:scaleX(1.0800)">5</span>
<div style="left:658.49px;top:894px;width:6.2px;height:1.4px;background:#111111"></div>
<span style="left:666.49px;top:886.37px;font-size:17.391px;line-height:17.391px;color:#111111;transform:scaleX(1.0800)">9</span>
<span style="left:677.60px;top:886.37px;font-size:17.391px;line-height:17.391px;color:#111111;transform:scaleX(1.0800)">0</span>
<span style="left:823.92px;top:886.37px;font-size:17.391px;line-height:17.391px;color:#111111;transform:scaleX(1.0800)">8</span>
<span style="left:834.86px;top:886.37px;font-size:17.391px;line-height:17.391px;color:#111111;transform:scaleX(1.0800)">0</span>
<div style="left:846.55px;top:894px;width:6.2px;height:1.4px;background:#111111"></div>
<span style="left:860.43px;top:886.37px;font-size:17.391px;line-height:17.391px;color:#111111;transform:scaleX(1.0800)">8</span>
<span style="left:871.37px;top:886.37px;font-size:17.391px;line-height:17.391px;color:#111111;transform:scaleX(1.0800)">5</span>
<span style="left:67.36px;top:931.02px;font-size:17.391px;line-height:17.391px;font-weight:700;color:#000000;transform:scaleX(0.9885);-webkit-text-stroke:0.35px #000000">4XL</span>
<span style="left:231.45px;top:931.02px;font-size:17.391px;line-height:17.391px;font-weight:400;color:#111111;transform:scaleX(0.9934)">94-100</span>
<span style="left:449.65px;top:931.02px;font-size:17.391px;line-height:17.391px;color:#111111;transform:scaleX(1.0800)">0</span>
<div style="left:461.11px;top:939px;width:6.2px;height:1.4px;background:#111111"></div>
<span style="left:474.48px;top:931.02px;font-size:17.391px;line-height:17.391px;color:#111111;transform:scaleX(1.0800)">2</span>
<span style="left:485.37px;top:931.02px;font-size:17.391px;line-height:17.391px;color:#111111;transform:scaleX(1.0800)">0</span>
<span style="left:633.46px;top:931.02px;font-size:17.391px;line-height:17.391px;color:#111111;transform:scaleX(1.0800)">9</span>
<span style="left:644.43px;top:931.02px;font-size:17.391px;line-height:17.391px;color:#111111;transform:scaleX(1.0800)">0</span>
<div style="left:655.97px;top:939px;width:6.2px;height:1.4px;background:#111111"></div>
<span style="left:669.63px;top:931.02px;font-size:17.391px;line-height:17.391px;color:#111111;transform:scaleX(1.0800)">0</span>
<span style="left:680.41px;top:931.02px;font-size:17.391px;line-height:17.391px;color:#111111;transform:scaleX(1.0800)">0</span>
<span style="left:823.90px;top:931.02px;font-size:17.391px;line-height:17.391px;color:#111111;transform:scaleX(1.0800)">8</span>
<span style="left:834.81px;top:931.02px;font-size:17.391px;line-height:17.391px;color:#111111;transform:scaleX(1.0800)">5</span>
<div style="left:846.47px;top:939px;width:6.2px;height:1.4px;background:#111111"></div>
<span style="left:860.11px;top:931.02px;font-size:17.391px;line-height:17.391px;color:#111111;transform:scaleX(1.0800)">9</span>
<span style="left:871.21px;top:931.02px;font-size:17.391px;line-height:17.391px;color:#111111;transform:scaleX(1.0800)">0</span>
<svg style="left:0;top:0" width="960" height="976"><path d="M819.50,668.80 L822.20,666.50 L822.20,677.90 M855.86,668.80 L858.56,666.50 L858.56,677.90 M820.20,713.45 L822.90,711.15 L822.90,722.55 M855.60,713.45 L858.30,711.15 L858.30,722.55 M471.01,758.10 L473.71,755.80 L473.71,767.20 M486.10,758.10 L488.80,755.80 L488.80,767.20 M820.70,758.10 L823.40,755.80 L823.40,767.20 M855.32,758.10 L858.02,755.80 L858.02,767.20 M437.20,802.75 L439.90,800.45 L439.90,811.85 M473.65,802.75 L476.35,800.45 L476.35,811.85 M820.20,802.75 L822.90,800.45 L822.90,811.85 M855.60,802.75 L858.30,800.45 L858.30,811.85 M438.10,847.40 L440.80,845.10 L440.80,856.50 M473.95,847.40 L476.65,845.10 L476.65,856.50 M819.50,847.40 L822.20,845.10 L822.20,856.50 M856.01,847.40 L858.71,845.10 L858.71,856.50 M440.20,892.05 L442.90,889.75 L442.90,901.15 M475.67,892.05 L478.37,889.75 L478.37,901.15 M481.18,892.05 L483.88,889.75 L483.88,901.15 M819.50,892.05 L822.20,889.75 L822.20,901.15 M856.01,892.05 L858.71,889.75 L858.71,901.15 M439.80,936.70 L442.50,934.40 L442.50,945.80 M445.35,936.70 L448.05,934.40 L448.05,945.80 M470.37,936.70 L473.07,934.40 L473.07,945.80 M665.29,936.70 L667.99,934.40 L667.99,945.80 M819.50,936.70 L822.20,934.40 L822.20,945.80 M855.90,936.70 L858.60,934.40 L858.60,945.80" fill="none" stroke="#111111" stroke-width="1.65"/></svg>
</body></html>
